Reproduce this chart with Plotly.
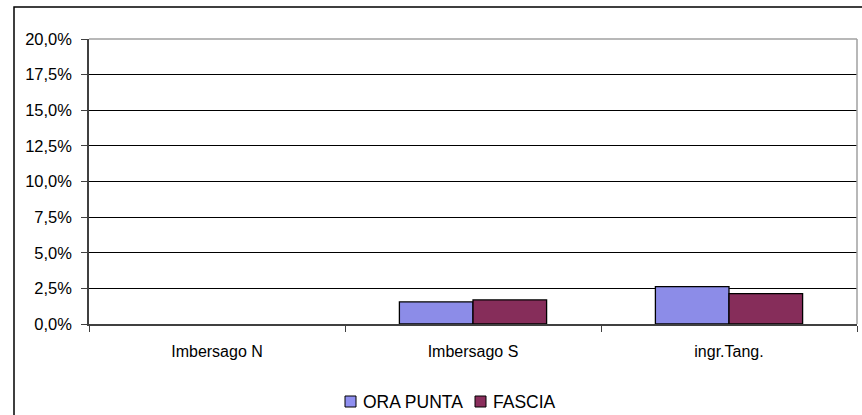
import plotly.graph_objects as go

categories = ["Imbersago N", "Imbersago S", "ingr.Tang."]
series_names = ["ORA PUNTA", "FASCIA"]
ora_punta = [0.0, 0.0155, 0.0262]
fascia = [0.0, 0.0169, 0.0213]
y_ticks = [0, 0.025, 0.05, 0.075, 0.1, 0.125, 0.15, 0.175, 0.2]

FAM = "Liberation Sans, Arial, sans-serif"
colors = ["#8c8ce8", "#862d5a"]
legend_colors = ["#8f8ff0", "#8a2e5c"]

fig = go.Figure()
for name, vals, col in zip(series_names, [ora_punta, fascia], colors):
    fig.add_trace(go.Bar(x=categories, y=vals, name=name,
                         marker=dict(color=col,
                                     line=dict(color="#000000",
                                               width=[0 if v == 0 else 1.3 for v in vals]))))

W = 768.0
H = 285.0
def px_x(x):
    return (x - 89) / W
def px_y(y):
    return (324 - y) / H

shapes = [
    dict(type="line", xref="paper", yref="paper", x0=0, x1=1, y0=1, y1=1,
         line=dict(color="#a0a0a0", width=1.5)),
    dict(type="line", xref="paper", yref="paper", x0=1, x1=1, y0=0, y1=1,
         line=dict(color="#a0a0a0", width=1.5)),
    dict(type="rect", xref="paper", yref="paper",
         x0=px_x(14), x1=1.2, y0=px_y(7), y1=-0.5,
         line=dict(color="#000000", width=1.5), fillcolor="rgba(0,0,0,0)", layer="below"),
]
annotations = []
leg_x = [345, 475]
for name, col, lx in zip(series_names, legend_colors, leg_x):
    shapes.append(dict(type="rect", xref="paper", yref="paper",
                       x0=px_x(lx), x1=px_x(lx + 11), y0=px_y(396), y1=px_y(407),
                       line=dict(color="#000000", width=1), fillcolor=col))
    annotations.append(dict(xref="paper", yref="paper", x=px_x(lx + 16), y=px_y(401.5),
                            xanchor="left", yanchor="middle", text=name, showarrow=False,
                            font=dict(family=FAM, size=17.5, color="#000000")))

fig.update_layout(
    width=862, height=415,
    margin=dict(l=89, r=5, t=39, b=91, autoexpand=False),
    paper_bgcolor="white", plot_bgcolor="white",
    separators=", ",
    font=dict(family=FAM, size=15, color="#000000"),
    barmode="group", bargap=0.425, bargroupgap=0,
    showlegend=False,
    xaxis=dict(showline=True, linecolor="#404040", linewidth=1.5,
               ticks="outside", tickson="boundaries", ticklen=6, tickcolor="#404040",
               showgrid=False, ticklabelstandoff=12,
               tickfont=dict(family=FAM, size=16, color="#000000")),
    yaxis=dict(range=[0, 0.2], tickvals=y_ticks, tickformat=".1%",
               showline=True, linecolor="#404040", linewidth=1.5,
               ticks="outside", ticklen=6, tickcolor="#404040",
               showgrid=True, gridcolor="#000000", gridwidth=1,
               zeroline=False, ticklabelstandoff=6,
               tickfont=dict(family=FAM, size=16.5, color="#000000")),
    shapes=shapes,
    annotations=annotations,
)

fig.write_html("out.html", config={"displayModeBar": False},
               post_script="document.body.style.margin='0';document.body.style.overflow='hidden';")
